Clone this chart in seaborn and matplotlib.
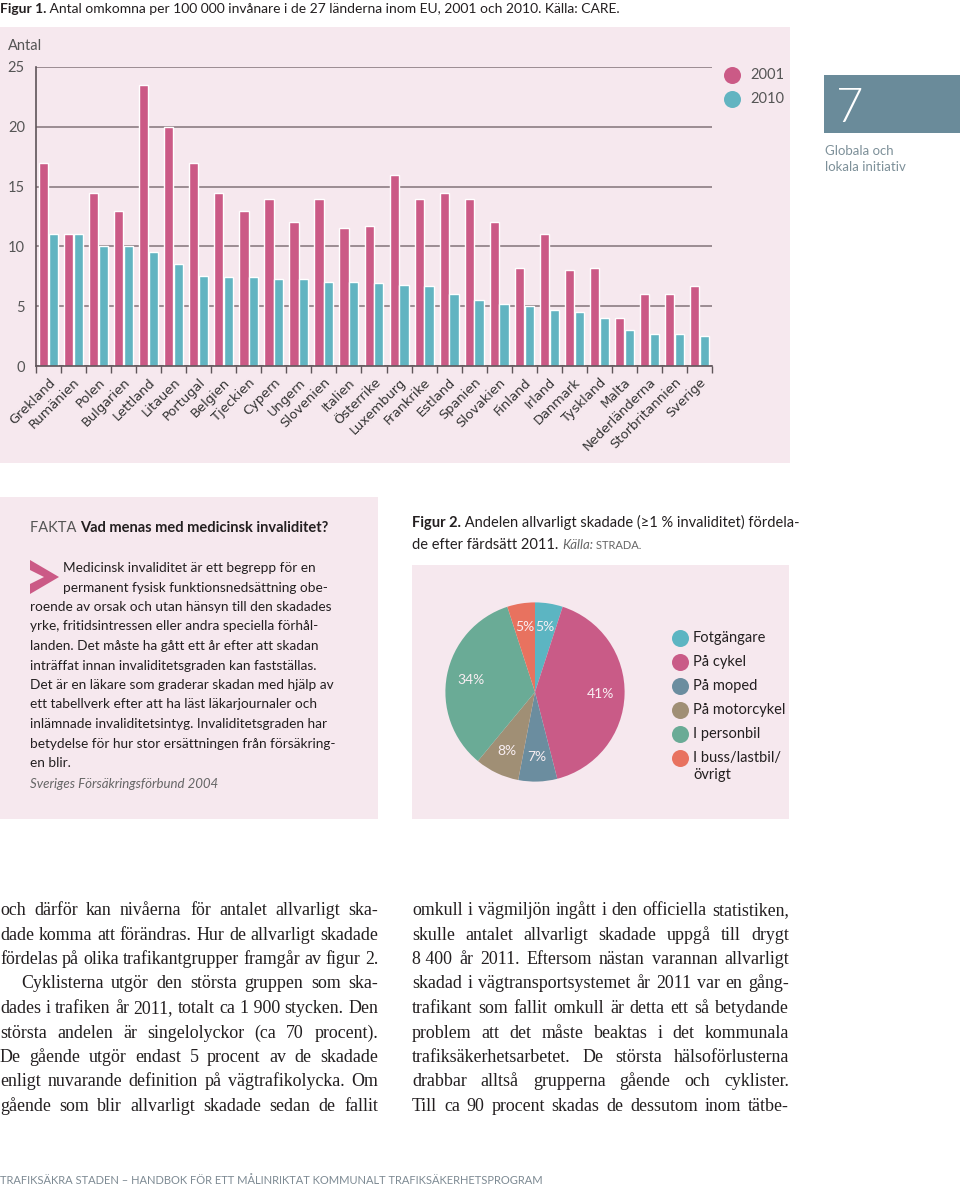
import matplotlib
matplotlib.use('Agg')
import numpy as np
import pandas as pd
import seaborn as sns
import matplotlib.pyplot as plt
from matplotlib.patches import Rectangle, Polygon

W, H = 960, 1188

# --- data, figure 1 ---
countries = ['Grekland', 'Rumänien', 'Polen', 'Bulgarien', 'Lettland', 'Litauen',
             'Portugal', 'Belgien', 'Tjeckien', 'Cypern', 'Ungern', 'Slovenien',
             'Italien', 'Österrike', 'Luxemburg', 'Frankrike', 'Estland', 'Spanien',
             'Slovakien', 'Finland', 'Irland', 'Danmark', 'Tyskland', 'Malta',
             'Nederländerna', 'Storbritannien', 'Sverige']
deaths_2001 = [17.0, 11.0, 14.5, 13.0, 23.5, 20.0, 17.0, 14.5, 13.0, 14.0, 12.0, 14.0,
               11.5, 11.7, 16.0, 14.0, 14.5, 14.0, 12.0, 8.2, 11.0, 8.0, 8.2, 4.0,
               6.0, 6.0, 6.7]
deaths_2010 = [11.0, 11.0, 10.0, 10.0, 9.5, 8.5, 7.5, 7.4, 7.4, 7.3, 7.3, 7.0,
               7.0, 6.9, 6.8, 6.7, 6.0, 5.5, 5.2, 5.0, 4.7, 4.5, 4.0, 3.0,
               2.7, 2.7, 2.5]
years = ['2001', '2010']
yticks = [0, 5, 10, 15, 20, 25]

# --- data, figure 2 ---
modes = ['Fotgängare', 'På cykel', 'På moped', 'På motorcykel', 'I personbil',
         'I buss/lastbil/\növrigt']
shares = [5, 41, 7, 8, 34, 5]

# --- text ---
title1 = ['Figur 1.', ' Antal omkomna per 100 000 invånare i de 27 länderna inom EU, 2001 och 2010. Källa: CARE.']
fakta_lines = ['Medicinsk invaliditet är ett begrepp för en',
               'permanent fysisk funktionsnedsättning obe-',
               'roende av orsak och utan hänsyn till den skadades',
               'yrke, fritidsintressen eller andra speciella förhål-',
               'landen. Det måste ha gått ett år efter att skadan',
               'inträffat innan invaliditetsgraden kan fastställas.',
               'Det är en läkare som graderar skadan med hjälp av',
               'ett tabellverk efter att ha läst läkarjournaler och',
               'inlämnade invaliditetsintyg. Invaliditetsgraden har',
               'betydelse för hur stor ersättningen från försäkring-',
               'en blir.']
col1 = ['och därför kan nivåerna för antalet allvarligt ska-',
        'dade komma att förändras. Hur de allvarligt skadade',
        'fördelas på olika trafikantgrupper framgår av figur 2.',
        'Cyklisterna utgör den största gruppen som ska-',
        'dades i trafiken år 2011, totalt ca 1\u00a0900 stycken. Den',
        'största andelen är singelolyckor (ca 70 procent).',
        'De gående utgör endast 5 procent av de skadade',
        'enligt nuvarande definition på vägtrafikolycka. Om',
        'gående som blir allvarligt skadade sedan de fallit']
col2 = ['omkull i vägmiljön ingått i den officiella statistiken,',
        'skulle antalet allvarligt skadade uppgå till drygt',
        '8\u00a0400 år 2011. Eftersom nästan varannan allvarligt',
        'skadad i vägtransportsystemet år 2011 var en gång-',
        'trafikant som fallit omkull är detta ett så betydande',
        'problem att det måste beaktas i det kommunala',
        'trafiksäkerhetsarbetet. De största hälsoförlusterna',
        'drabbar alltså grupperna gående och cyklister.',
        'Till ca 90 procent skadas de dessutom inom tätbe-']

BG = '#f6e8ee'
PINK = '#cb5a86'
TEAL = '#62b4c1'
GRID = '#8c7c83'
INK = '#231f20'
pie_colors = ['#5cb5c2', '#c95b87', '#6b8d9f', '#a08f75', '#6aab96', '#e8725f']

sns.set_theme(style='white')
plt.rcParams['font.family'] = ['Lato', 'DejaVu Sans']


def box(x, y, w, h):
    return [x / W, 1 - (y + h) / H, w / W, h / H]


fig = plt.figure(figsize=(W / 100, H / 100), dpi=100, facecolor='white')
renderer = fig.canvas.get_renderer()

# overlay in pixel coordinates for panels and page text
ov = fig.add_axes([0, 0, 1, 1], zorder=-1)
ov.set_xlim(0, W)
ov.set_ylim(H, 0)
ov.axis('off')

for x, y, w, h in [(0, 27, 790, 436), (0, 497, 378, 322), (412, 565, 377, 254)]:
    ov.add_patch(Rectangle((x, y), w, h, color=BG, lw=0))


def runs(x, y, parts, **common):
    for s, kw in parts:
        t = ov.text(x, y, s, va='baseline', **common, **kw)
        x += t.get_window_extent(renderer).width
    return x


def justify(line, x0, x1, y, **kw):
    words = line.split(' ')
    texts = [ov.text(0, y, w_, va='baseline', **kw) for w_ in words]
    widths = [t.get_window_extent(renderer).width for t in texts]
    gap = (x1 - x0 - sum(widths)) / max(len(words) - 1, 1)
    x = x0
    for t, w_ in zip(texts, widths):
        t.set_x(x)
        x += w_ + gap


# ---- figure 1 ----
runs(0, 13, [(title1[0], dict(fontweight='bold')), (title1[1], {})], fontsize=10, color=INK)
ov.text(8, 50, 'Antal', fontsize=10.5, color='#555', va='baseline')

ax = fig.add_axes(box(36, 67, 676, 299))
df = pd.DataFrame({'land': countries * 2,
                   'år': [years[0]] * len(countries) + [years[1]] * len(countries),
                   'antal': deaths_2001 + deaths_2010})
sns.barplot(data=df, x='land', y='antal', hue='år', palette=[PINK, TEAL],
            saturation=1, width=0.78, gap=0.06, legend=False, ax=ax)
ax.patch.set_alpha(0)
ax.set_xlim(-0.5, len(countries) - 0.5)
ax.set_ylim(0, 25)
ax.set_yticks(yticks)
ax.set_xlabel('')
ax.set_ylabel('')
ax.grid(axis='y', color=GRID, lw=1.2)
ax.set_axisbelow(True)
for s in ['top', 'right']:
    ax.spines[s].set_visible(False)
for s in ['left', 'bottom']:
    ax.spines[s].set_color('#5e5459')
    ax.spines[s].set_linewidth(1.2)
ax.set_xticks(np.arange(-0.5, len(countries), 1), minor=True)
ax.tick_params(axis='x', which='major', length=0, pad=7, labelsize=9.4, labelcolor='#333')
ax.tick_params(axis='x', which='minor', bottom=True, length=5, width=1, color='#5e5459', direction='out')
ax.tick_params(axis='y', length=0, pad=8, labelsize=10.5, labelcolor='#555')
for lbl in ax.get_xticklabels():
    lbl.set_rotation(45)
    lbl.set_ha('right')
    lbl.set_rotation_mode('anchor')
    lbl.set_fontfamily('DejaVu Sans')

# legend circles
for yy, col, lab in [(75, PINK, years[0]), (99, TEAL, years[1])]:
    ov.scatter([732], [yy], s=150, color=col, lw=0)
    ov.text(750, yy, lab, fontsize=10.5, color='#555', va='center')

# chapter box
ov.add_patch(Rectangle((824, 75), 136, 58, color='#6a8b9a', lw=0))
ov.text(836, 122, '7', fontsize=34, color='white', fontweight=300, va='baseline')
ov.text(825, 155, 'Globala och', fontsize=9.5, color='#7d9099', va='baseline')
ov.text(825, 171, 'lokala initiativ', fontsize=9.5, color='#7d9099', va='baseline')

# ---- FAKTA box ----
runs(30, 532, [('FAKTA ', dict(color='#555')), ('Vad menas med medicinsk invaliditet?', dict(fontweight='bold', color=INK))],
     fontsize=10.5)
ov.add_patch(Polygon([(30, 560), (59, 577), (30, 594), (30, 584), (44, 577), (30, 570)], color=PINK, lw=0))
for i, line in enumerate(fakta_lines):
    x0 = 63 if i < 2 else 30
    ov.text(x0, 572 + i * 19.5, line, fontsize=9.8, color=INK, va='baseline')
ov.text(30, 788, 'Sveriges Försäkringsförbund 2004', fontsize=9.5, color='#666',
        fontstyle='italic', va='baseline')

# ---- figure 2 ----
runs(412, 527, [('Figur 2.', dict(fontweight='bold')),
                (' Andelen allvarligt skadade (≥1 % invaliditet) fördela-', {})], fontsize=10.5, color=INK)
xe = runs(412, 549, [('de efter färdsätt 2011. ', {})], fontsize=10.5, color=INK)
xe = runs(xe, 549, [('Källa:', dict(fontstyle='italic', fontsize=9.5))], color='#666')
runs(xe, 549, [(' STRADA.', dict(fontsize=8))], color='#666')

pax = fig.add_axes(box(423, 580, 224, 224))
wedges, _, autotexts = pax.pie(shares, colors=pie_colors, startangle=90, counterclock=False,
                               autopct='%.0f%%', pctdistance=0.73,
                               wedgeprops=dict(linewidth=0),
                               textprops=dict(color='#f8eef2', fontsize=10))
pax.set_aspect('equal')

for i, (lab, col) in enumerate(zip(modes, pie_colors)):
    yy = 638 + i * 24
    ov.scatter([680], [yy], s=150, color=col, lw=0)
    ov.text(693, yy - 7, lab, fontsize=10.5, color=INK, va='top', linespacing=1.25)

# ---- body text ----
serif = dict(fontsize=12.9, color=INK, family='Liberation Serif')
for i, line in enumerate(col1):
    justify(line, 21 if i == 3 else 0, 378, 915 + i * 24.5, **serif)
for i, line in enumerate(col2):
    justify(line, 412, 789, 915 + i * 24.5, **serif)

ov.text(0, 1184, 'TRAFIKSÄKRA STADEN – HANDBOK FÖR ETT MÅLINRIKTAT KOMMUNALT TRAFIKSÄKERHETSPROGRAM',
        fontsize=8, color='#7d8a93', va='baseline')

fig.savefig('out.png', dpi=100, facecolor='white')
